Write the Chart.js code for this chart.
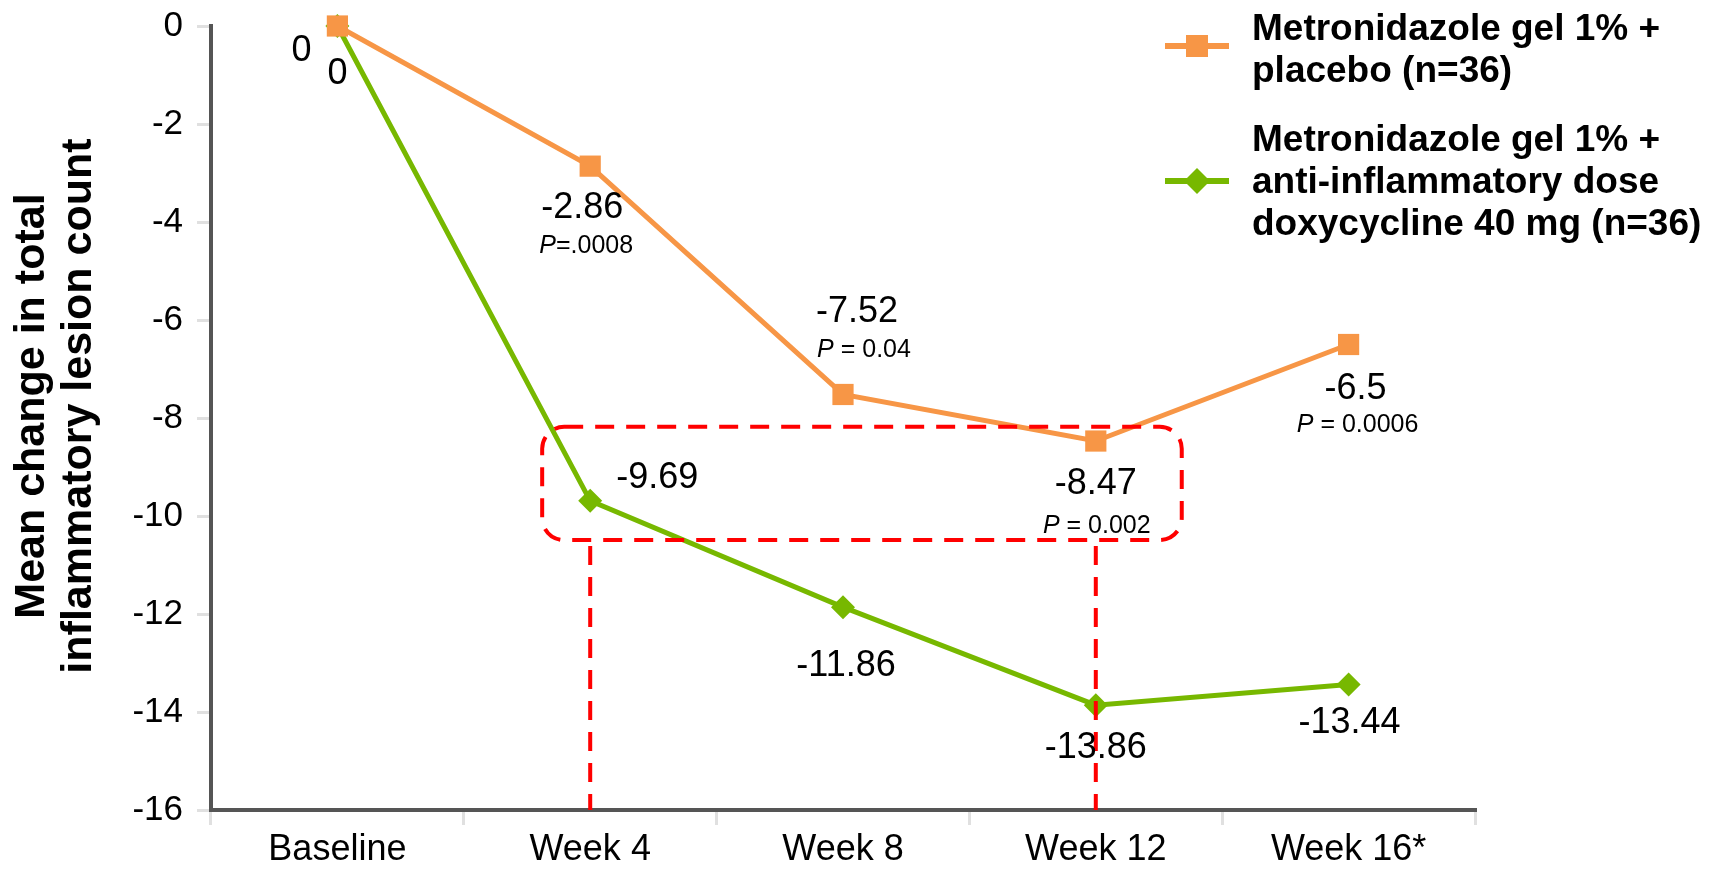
<!DOCTYPE html>
<html>
<head>
<meta charset="utf-8">
<script src="https://cdn.jsdelivr.net/npm/chart.js@4.4.0/dist/chart.umd.min.js"></script>
<style>
  html, body { margin: 0; padding: 0; background: #fff; }
  canvas { display: block; }
</style>
</head>
<body>
<canvas id="lesionChart" width="1717" height="869"></canvas>
<script>
const weeks = ['Baseline', 'Week 4', 'Week 8', 'Week 12', 'Week 16*'];
const placebo = [0, -2.86, -7.52, -8.47, -6.5];
const doxycycline = [0, -9.69, -11.86, -13.86, -13.44];
const placeboP = ['', '=.0008', ' = 0.04', ' = 0.002', ' = 0.0006'];
const placeboLegend = ['Metronidazole gel 1% +', 'placebo (n=36)'];
const doxyLegend = ['Metronidazole gel 1% +', 'anti-inflammatory dose', 'doxycycline 40 mg (n=36)'];
const yTitle = ['  Mean change in total', '  inflammatory lesion count'];

// the week 4 / week 12 comparison frame
const boxedWeeks = [1, 3];
const boxedRange = [-8.18, -10.49];

const FONT = "'Liberation Sans', Arial, sans-serif";
const ORANGE = '#f79646';
const GREEN = '#77b800';

// label nudges from each point, px
const placeboOffsets = [[-36, 25], [-8, 42], [14, -82], [0, 43], [7, 45]];
const placeboPOffsets = [null, [-4, 80], [21, -44], [1, 85], [9, 81]];
const doxyOffsets = [[0, 48], [67, -23], [3, 59], [0, 43], [1, 39]];

// red dashed frame + drop lines
const frame = {
  id: 'frame',
  afterDatasetsDraw(chart) {
    const {ctx, scales: {x, y}} = chart;
    const step = x.getPixelForValue(1) - x.getPixelForValue(0);
    const left = x.getPixelForValue(boxedWeeks[0]) - 0.19 * step;
    const right = x.getPixelForValue(boxedWeeks[1]) + 0.34 * step;
    const top = y.getPixelForValue(boxedRange[0]);
    const bottom = y.getPixelForValue(boxedRange[1]);
    ctx.save();
    ctx.strokeStyle = '#ff0000';
    ctx.lineWidth = 4;
    ctx.setLineDash([19, 12]);
    ctx.beginPath();
    ctx.roundRect(left, top, right - left, bottom - top, 22);
    ctx.stroke();
    boxedWeeks.forEach(i => {
      const px = x.getPixelForValue(i);
      ctx.beginPath();
      ctx.moveTo(px, bottom + 6);
      ctx.lineTo(px, y.getPixelForValue(-16));
      ctx.stroke();
    });
    ctx.restore();
  }
};

const pointLabels = {
  id: 'pointLabels',
  afterDatasetsDraw(chart) {
    const ctx = chart.ctx;
    ctx.save();
    ctx.fillStyle = '#000';
    ctx.textAlign = 'center';
    ctx.textBaseline = 'middle';
    ctx.font = '36px ' + FONT;
    [[0, placebo, placeboOffsets], [1, doxycycline, doxyOffsets]].forEach(([i, vals, offs]) => {
      chart.getDatasetMeta(i).data.forEach((pt, j) => {
        ctx.fillText(String(vals[j]), pt.x + offs[j][0], pt.y + offs[j][1]);
      });
    });
    // P values, italic P
    ctx.textAlign = 'left';
    chart.getDatasetMeta(0).data.forEach((pt, j) => {
      if (!placeboPOffsets[j]) return;
      ctx.font = 'italic 25px ' + FONT;
      const wP = ctx.measureText('P').width;
      ctx.font = '25px ' + FONT;
      const wRest = ctx.measureText(placeboP[j]).width;
      const x0 = pt.x + placeboPOffsets[j][0] - (wP + wRest) / 2;
      const y0 = pt.y + placeboPOffsets[j][1];
      ctx.font = 'italic 25px ' + FONT;
      ctx.fillText('P', x0, y0);
      ctx.font = '25px ' + FONT;
      ctx.fillText(placeboP[j], x0 + wP, y0);
    });
    ctx.restore();
  }
};

const sideLegend = {
  id: 'sideLegend',
  afterDraw(chart) {
    const ctx = chart.ctx;
    ctx.save();
    const items = [
      {lines: placeboLegend, color: ORANGE, shape: 'rect', markY: 46, base: 40},
      {lines: doxyLegend, color: GREEN, shape: 'diamond', markY: 181, base: 151}
    ];
    items.forEach(it => {
      ctx.strokeStyle = it.color;
      ctx.fillStyle = it.color;
      ctx.lineWidth = 6;
      ctx.beginPath();
      ctx.moveTo(1165, it.markY);
      ctx.lineTo(1229, it.markY);
      ctx.stroke();
      ctx.beginPath();
      if (it.shape === 'rect') {
        ctx.rect(1197 - 11, it.markY - 11, 22, 22);
      } else {
        ctx.moveTo(1197 - 13, it.markY);
        ctx.lineTo(1197, it.markY - 13);
        ctx.lineTo(1197 + 13, it.markY);
        ctx.lineTo(1197, it.markY + 13);
        ctx.closePath();
      }
      ctx.fill();
      ctx.fillStyle = '#000';
      ctx.font = 'bold 37px ' + FONT;
      ctx.textAlign = 'left';
      ctx.textBaseline = 'alphabetic';
      it.lines.forEach((t, k) => ctx.fillText(t, 1252, it.base + k * 42));
    });
    ctx.restore();
  }
};

const tickGrid = {
  display: true,
  drawOnChartArea: false,
  drawTicks: true,
  color: '#e0e0e0',
  lineWidth: 3
};

const lesionChart = new Chart(document.getElementById('lesionChart'), {
  type: 'line',
  data: {
    labels: weeks,
    datasets: [{
      label: placeboLegend.join(' '),
      data: placebo,
      borderColor: ORANGE,
      backgroundColor: ORANGE,
      borderWidth: 5,
      pointStyle: 'rect',
      pointRadius: 15,
      pointBorderWidth: 0,
      tension: 0,
      clip: false
    }, {
      label: doxyLegend.join(' '),
      data: doxycycline,
      borderColor: GREEN,
      backgroundColor: GREEN,
      borderWidth: 5,
      pointStyle: 'rectRot',
      pointRadius: 12,
      pointBorderWidth: 0,
      tension: 0,
      clip: false
    }]
  },
  options: {
    responsive: false,
    animation: false,
    layout: { padding: { top: 26, right: 242, bottom: 0, left: 0 } },
    plugins: {
      legend: { display: false },
      tooltip: { enabled: false }
    },
    scales: {
      x: {
        offset: true,
        grid: Object.assign({}, tickGrid, { offset: true, tickLength: 15 }),
        border: { display: true, color: '#555555', width: 4 },
        ticks: { color: '#000', font: { family: FONT, size: 36 }, padding: 3 },
        afterFit(scale) { scale.height = 59; }
      },
      y: {
        min: -16,
        max: 0,
        ticks: { stepSize: 2, color: '#000', font: { family: FONT, size: 35 }, padding: 14 },
        grid: Object.assign({}, tickGrid, { tickLength: 14 }),
        border: { display: true, color: '#555555', width: 4 },
        title: {
          display: true,
          text: yTitle,
          color: '#000',
          font: { family: FONT, size: 43, weight: 'bold', lineHeight: 1.1 },
          padding: { top: 8, bottom: 0 }
        },
        afterFit(scale) {
          scale.width = 211;
          scale.paddingTop = 0;
          scale.paddingBottom = 0;
        }
      }
    }
  },
  plugins: [frame, pointLabels, sideLegend]
});
</script>
</body>
</html>
